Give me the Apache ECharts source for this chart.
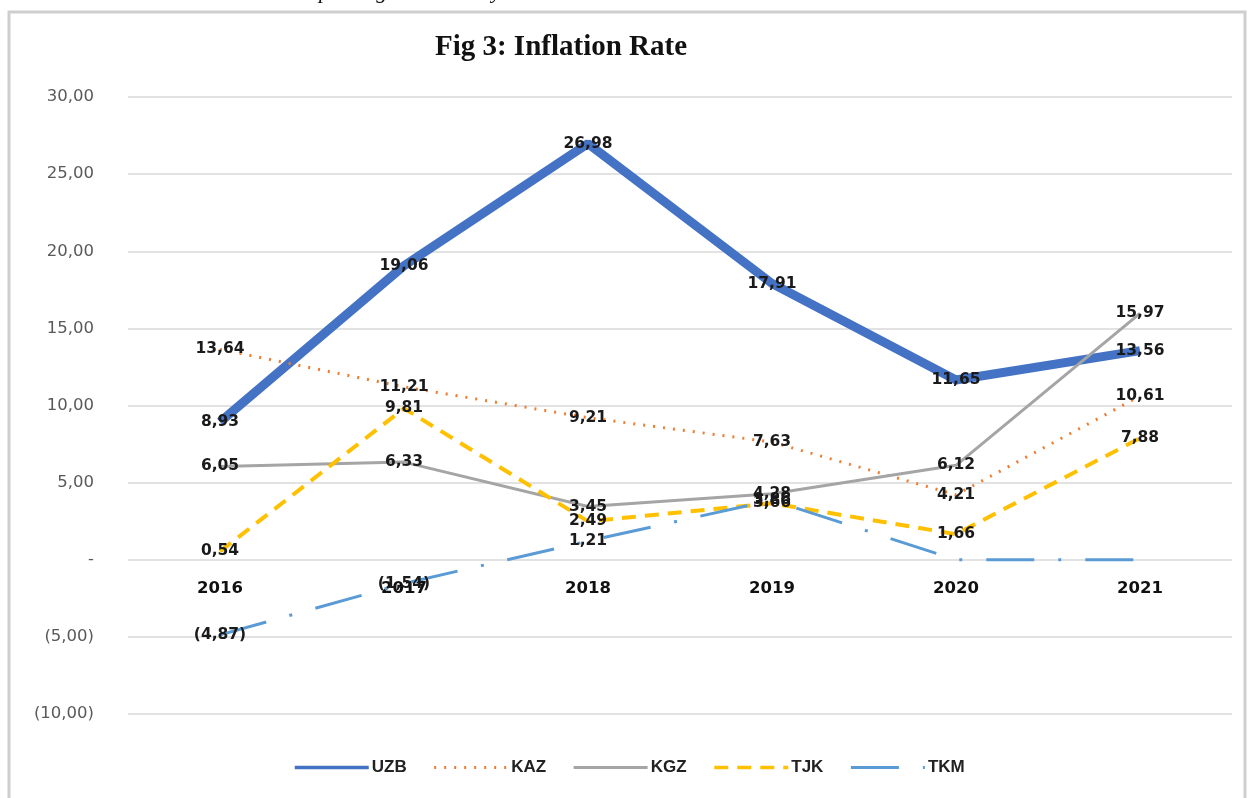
<!DOCTYPE html>
<html>
<head>
<meta charset="utf-8">
<script src="https://cdn.jsdelivr.net/npm/echarts@6/dist/echarts.min.js"></script>
<style>
  html, body { margin: 0; padding: 0; background: #fff; }
  #chart { width: 1252px; height: 798px; }
</style>
</head>
<body>
<div id="chart"></div>
<script>
// years on the x axis
var years = ['2016', '2017', '2018', '2019', '2020', '2021'];

// inflation rate per country (%)
var uzb = [8.93, 19.06, 26.98, 17.91, 11.65, 13.56];
var kaz = [13.64, 11.21, 9.21, 7.63, 4.21, 10.61];
var kgz = [6.05, 6.33, 3.45, 4.28, 6.12, 15.97];
var tjk = [0.54, 9.81, 2.49, 3.66, 1.66, 7.88];
var tkm = [-4.87, -1.54, 1.21, 3.86, 0, 0];

// Excel-like accounting format: 5,00 / (5,00) / -
function fmt(v, zeroText) {
    if (v === 0) return zeroText;
    var s = Math.abs(v).toFixed(2).replace('.', ',');
    return v < 0 ? '(' + s + ')' : s;
}

var labelStyle = {
    show: true,
    position: 'inside',
    color: '#1a1a1a',
    fontFamily: 'DejaVu Sans',
    fontWeight: 'bold',
    fontSize: 15.5,
    formatter: function(p) { return fmt(p.value, ''); }
};

function makeSeries(name, data, color, width, type) {
    return {
        name: name,
        type: 'line',
        data: data,
        symbol: 'circle',
        symbolSize: 0,
        itemStyle: { color: color },
        lineStyle: { color: color, width: width, type: type },
        label: labelStyle,
        animation: false
    };
}

var chart = echarts.init(document.getElementById('chart'));

var option = {
    backgroundColor: '#fff',
    title: {
        text: 'Fig 3: Inflation Rate',
        left: 556,
        top: 28,
        textAlign: 'center',
        textStyle: {
            fontFamily: 'Liberation Serif',
            fontWeight: 'bold',
            fontSize: 29,
            color: '#111'
        }
    },
    graphic: [
        {
            type: 'text',
            left: 92,
            top: -19,
            style: {
                text: 'Source: World Bank data plotting was done by the researchers.',
                font: 'italic 22px "Liberation Serif"',
                fill: '#111'
            }
        },
        {
            type: 'rect',
            shape: { x: 9, y: 12, width: 1236, height: 790 },
            style: { fill: 'none', stroke: '#cfcfcf', lineWidth: 3 }
        }
    ],
    legend: {
        bottom: 17,
        left: 288,
        itemWidth: 74,
        itemHeight: 10,
        itemGap: 26,
        itemStyle: { opacity: 0 },
        textStyle: {
            fontFamily: 'Liberation Sans',
            fontWeight: 'bold',
            fontSize: 17,
            color: '#222',
            padding: [0, 0, 0, -2]
        },
        data: [
            { name: 'UZB', lineStyle: { width: 3.5 } },
            { name: 'KAZ', lineStyle: { width: 3 } },
            { name: 'KGZ', lineStyle: { width: 3 } },
            { name: 'TJK', lineStyle: { width: 3.5 } },
            { name: 'TKM', lineStyle: { width: 3 } }
        ]
    },
    grid: {
        left: 128,
        right: 20,
        top: 97,
        bottom: 84
    },
    xAxis: {
        type: 'category',
        data: years,
        boundaryGap: true,
        offset: -154,
        axisLine: { onZero: false, show: false },
        axisTick: { show: false },
        axisLabel: {
            margin: 20,
            color: '#111',
            fontFamily: 'DejaVu Sans',
            fontWeight: 'bold',
            fontSize: 16.5
        }
    },
    yAxis: {
        type: 'value',
        min: -10,
        max: 30,
        interval: 5,
        axisLine: { show: false },
        axisTick: { show: false },
        splitLine: { lineStyle: { color: '#d9d9d9', width: 1.5 } },
        axisLabel: {
            margin: 34,
            color: '#595959',
            fontFamily: 'DejaVu Sans',
            fontSize: 16.5,
            formatter: function(v) { return fmt(v, '-'); }
        }
    },
    series: [
        makeSeries('UZB', uzb, '#4472C4', 9, 'solid'),
        makeSeries('KAZ', kaz, '#ED7D31', 3, [2, 8]),
        makeSeries('KGZ', kgz, '#A5A5A5', 3, 'solid'),
        makeSeries('TJK', tjk, '#FFC000', 4, [14, 9]),
        makeSeries('TKM', tkm, '#5B9BD5', 3, [48, 24, 3, 24])
    ]
};

chart.setOption(option);

window.addEventListener('resize', function() {
    chart.resize();
});
</script>
</body>
</html>
